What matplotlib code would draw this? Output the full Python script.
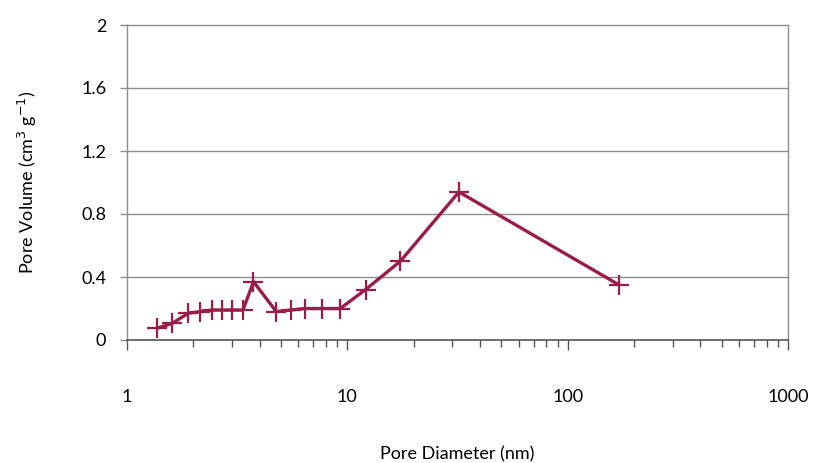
import matplotlib
matplotlib.use("Agg")
import matplotlib.pyplot as plt
from matplotlib.ticker import LogLocator, NullFormatter, FixedLocator, FixedFormatter

plt.rcParams['font.family'] = ['Lato', 'DejaVu Sans']

pore_diameter = [1.37, 1.60, 1.90, 2.15, 2.43, 2.69, 2.99, 3.36, 3.75, 4.76,
                 5.54, 6.40, 7.67, 9.29, 12.1, 17.4, 32.1, 171.0]
pore_volume = [0.075, 0.105, 0.17, 0.18, 0.19, 0.19, 0.19, 0.19, 0.37, 0.18,
               0.19, 0.20, 0.20, 0.20, 0.32, 0.50, 0.94, 0.35]
x_ticks = [1, 10, 100, 1000]
x_ticklabels = ["1", "10", "100", "1000"]
y_ticks = [0, 0.4, 0.8, 1.2, 1.6, 2]
y_ticklabels = ["0", "0.4", "0.8", "1.2", "1.6", "2"]

fig = plt.figure(figsize=(8.13, 4.63), dpi=100)
ax = fig.add_axes([127/813, 1 - 340/463, (788 - 127)/813, (340 - 25)/463])

ax.set_xscale('log')
ax.set_xlim(1, 1000)
ax.set_ylim(0, 2)

for y in y_ticks[1:-1]:
    ax.axhline(y, color='#8c8c8c', lw=1.0, zorder=1)

ax.plot(pore_diameter, pore_volume, color='#9a1d45', lw=2.4, marker='+',
        markersize=15, markeredgewidth=1.6, zorder=3, clip_on=False)

ax.xaxis.set_major_locator(FixedLocator(x_ticks))
ax.xaxis.set_major_formatter(FixedFormatter(x_ticklabels))
ax.xaxis.set_minor_locator(LogLocator(base=10, subs=range(2, 10)))
ax.xaxis.set_minor_formatter(NullFormatter())
ax.yaxis.set_major_locator(FixedLocator(y_ticks))
ax.yaxis.set_major_formatter(FixedFormatter(y_ticklabels))

ax.tick_params(axis='x', which='major', direction='out', length=7, width=1,
               color='#555555', pad=28, labelsize=13)
ax.tick_params(axis='x', which='minor', direction='out', length=5, width=1,
               color='#555555')
ax.tick_params(axis='y', which='major', direction='out', length=5, width=1,
               color='#8c8c8c', pad=10, labelsize=13)

for side in ['left', 'right', 'top']:
    ax.spines[side].set_color('#8c8c8c')
    ax.spines[side].set_linewidth(1.0)
ax.spines['bottom'].set_color('#555555')
ax.spines['bottom'].set_linewidth(1.2)

ax.set_xlabel('Pore Diameter (nm)', fontsize=13, labelpad=30)
ax.set_ylabel('Pore Volume (cm$^{3}$ g$^{-1}$)', fontsize=13, labelpad=30)

fig.savefig('out.png', dpi=100)
